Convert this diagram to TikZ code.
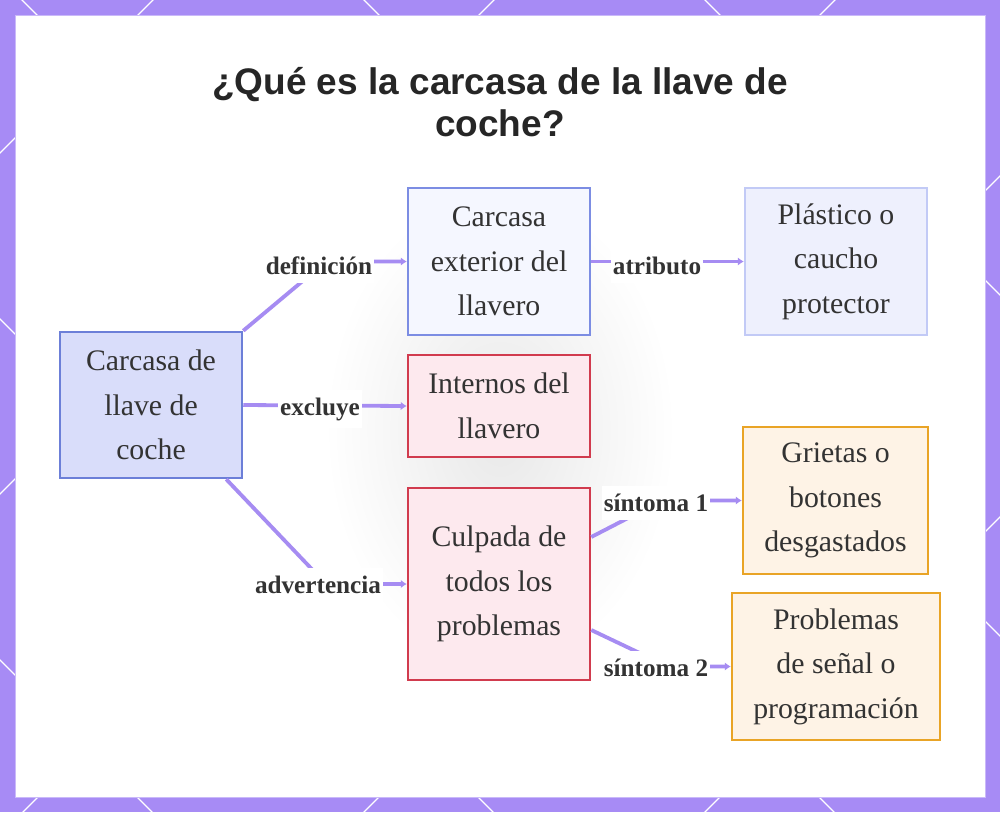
\documentclass[tikz,border=0pt]{standalone}
\usepackage{fontspec}
\setmainfont{Liberation Serif}
\newfontfamily\titlefont{Liberation Sans}
\usetikzlibrary{arrows.meta}
\definecolor{framec}{HTML}{A78BF5}
\definecolor{edgec}{HTML}{A68CF2}
\definecolor{ink}{HTML}{333333}
\definecolor{mainfill}{HTML}{D9DDFA}
\definecolor{maindraw}{HTML}{6C7FD8}
\definecolor{extfill}{HTML}{F5F7FF}
\definecolor{extdraw}{HTML}{7C8DE3}
\definecolor{attfill}{HTML}{EEF0FD}
\definecolor{attdraw}{HTML}{C2CAF6}
\definecolor{redfill}{HTML}{FDE9EE}
\definecolor{reddraw}{HTML}{D13B4E}
\definecolor{orgfill}{HTML}{FEF3E6}
\definecolor{orgdraw}{HTML}{E9A426}

\begin{document}
\begin{tikzpicture}[x=1pt,y=-1pt,
    box/.style = {draw, line width=2.5pt, text=ink, align=center, inner sep=0pt,
                  font=\fontsize{29.8}{44.5}\selectfont},
    bluebox/.style = {box, draw=maindraw, fill=mainfill},
    extbox/.style = {box, draw=extdraw, fill=extfill},
    attbox/.style = {box, draw=attdraw, fill=attfill},
    redbox/.style = {box, draw=reddraw, fill=redfill},
    orgbox/.style = {box, draw=orgdraw, fill=orgfill},
    edge/.style = {draw=edgec, line width=3.8pt,
                   -{Latex[length=6pt,width=8.5pt]}},
    tag/.style = {fill=white, text=ink, inner xsep=2pt, inner ysep=8pt,
                  font=\bfseries\fontsize{25.2}{28}\selectfont}]
% frame with lattice
\fill[framec] (0,0) rectangle (1000,812);
\begin{scope}
\clip (0,0) rectangle (1000,812);
\foreach \c in {-705,-364,-22,319,660}
    \draw[white, line width=1.2pt] (-100,-100+\c) -- (1100,1100+\c);
\foreach \d in {153,494,835,1176,1517,1858}
    \draw[white, line width=1.2pt] (-100,\d+100) -- (1100,\d-1100);
\end{scope}
\fill[white] (15,15) rectangle (985,797);
\draw[framec!60, line width=0.8pt] (15,15) rectangle (985,797);
\shade[inner color=black!9, outer color=white] (500,430) ellipse (175 and 240);

% title
\node[font=\titlefont\bfseries\fontsize{37}{42}\selectfont, text=black!85, align=center]
    (title) at (500,102) {¿Qué es la carcasa de la llave de\\coche?};

% boxes
\node[bluebox, minimum width=182, minimum height=146] (main) at (151,405) {Carcasa de\\llave de\\coche};
\node[extbox, minimum width=182, minimum height=147] (ext) at (499,261.5) {Carcasa\\exterior del\\llavero};
\node[attbox, minimum width=182, minimum height=147] (att) at (836,261.5) {Plástico o\\caucho\\protector};
\node[redbox, minimum width=182, minimum height=102] (inner) at (499,406) {Internos del\\llavero};
\node[redbox, minimum width=182, minimum height=192] (blame) at (499,584) {Culpada de\\todos los\\problemas};
\node[orgbox, minimum width=185, minimum height=147] (crack) at (835.5,500.5) {Grietas o\\botones\\desgastados};
\node[orgbox, minimum width=208, minimum height=147] (signal) at (836,666.5) {Problemas\\de señal o\\programación};

% bends
\coordinate (b1) at (326,261.5);
\coordinate (b3) at (326,584);
\coordinate (b4) at (662,500.5);
\coordinate (b5) at (668,666.5);

% connectors
\draw[edge] (main.north east) -- (b1) -- (ext.west);
\draw[edge] (main.east) -- (inner.west);
\draw[edge] ([xshift=-17pt]main.south east) -- (b3) -- (blame.west);
\draw[edge] (ext.east) -- (att.west);
\draw[edge] ([yshift=47pt]blame.east) -- (b4) -- (crack.west);
\draw[edge] ([yshift=-46pt]blame.east) -- (b5) -- (signal.west);

% labels
\node[tag] (ldef) at (319,266) {definición};
\node[tag] (lexc) at (320,409) {excluye};
\node[tag] (ladv) at (318,585) {advertencia};
\node[tag] (latt) at (657,266) {atributo};
\node[tag] (ls1) at (656,503) {síntoma 1};
\node[tag] (ls2) at (656,668) {síntoma 2};
\end{tikzpicture}
\end{document}
